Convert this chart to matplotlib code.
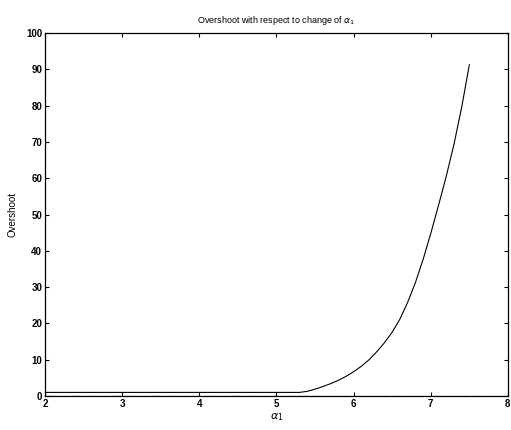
import matplotlib

matplotlib.use("Agg")
import matplotlib.pyplot as plt

# values
alpha1 = [2.0, 3.0, 4.0, 5.0, 5.3, 5.4, 5.5, 5.6, 5.7, 5.8, 5.9, 6.0, 6.1, 6.2,
          6.3, 6.4, 6.5, 6.6, 6.7, 6.8, 6.9, 7.0, 7.1, 7.2, 7.3, 7.4, 7.5]
overshoot = [1.0, 1.0, 1.0, 1.0, 1.0, 1.3, 1.9, 2.6, 3.4, 4.3, 5.4, 6.7, 8.2, 10.0,
             12.2, 14.7, 17.6, 21.2, 25.8, 31.2, 37.6, 44.8, 52.5, 60.5, 69.3, 79.5, 91.3]

xticks = [2, 3, 4, 5, 6, 7, 8]
yticks = list(range(0, 101, 10))

plt.rcParams["font.family"] = "Liberation Sans"

fig = plt.figure(figsize=(5.11, 4.30), dpi=100)
ax = fig.add_axes([0.088, 0.079, 0.906, 0.844])

ax.plot(alpha1, overshoot, color="black", linewidth=0.8)
ax.plot([2, 8], [0, 0], color="black", linewidth=0.8, linestyle=(0, (8, 4)))

ax.set_xlim(2, 8)
ax.set_ylim(0, 100)
ax.set_xticks(xticks)
ax.set_yticks(yticks)
ax.tick_params(direction="in", top=True, right=True, length=3, width=0.8,
               labelsize=7, pad=2)
for lbl in ax.get_xticklabels() + ax.get_yticklabels():
    lbl.set_fontweight("bold")
for s in ax.spines.values():
    s.set_linewidth(0.9)

ax.set_title(r"Overshoot with respect to change of $\alpha_1$", fontsize=6.5, pad=7)
ax.set_xlabel(r"$\alpha_1$", fontsize=8, labelpad=2)
ax.set_ylabel("Overshoot", fontsize=7, labelpad=6)

fig.savefig("out.png", dpi=100)
